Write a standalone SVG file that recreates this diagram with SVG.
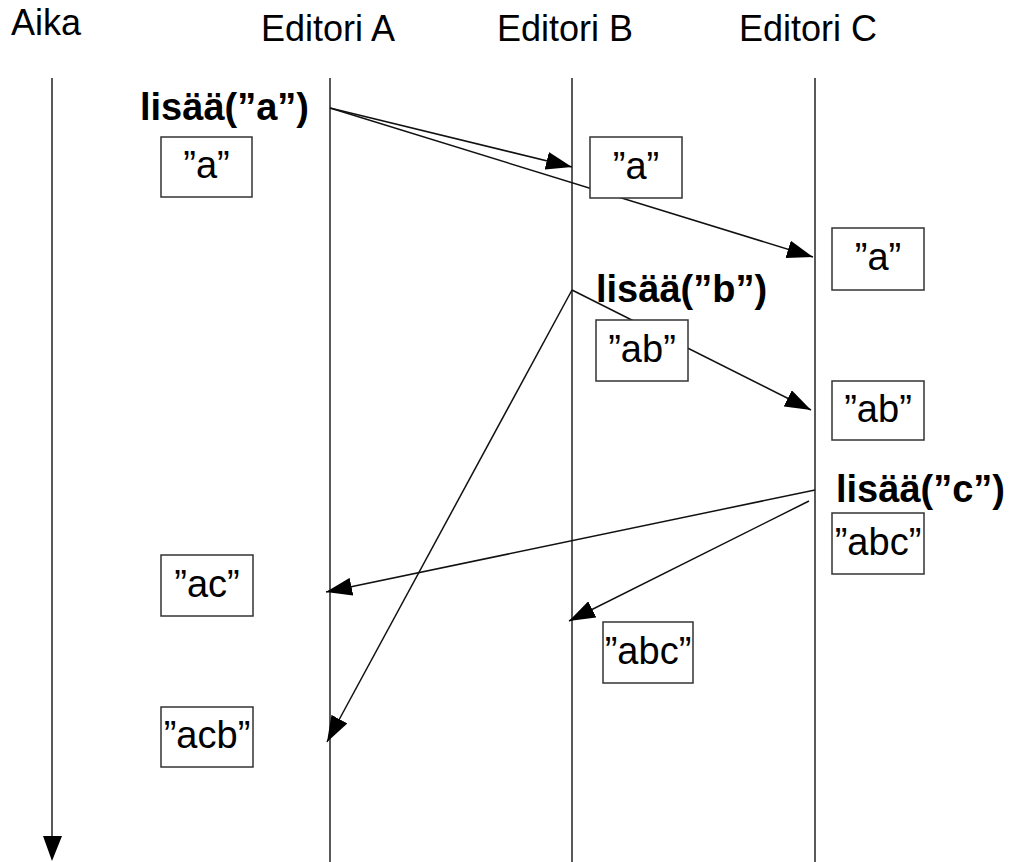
<svg xmlns="http://www.w3.org/2000/svg" width="1014" height="862" viewBox="0 0 1014 862">
  <defs>
    <marker id="head" markerUnits="userSpaceOnUse" markerWidth="26" markerHeight="18" refX="26" refY="9" orient="auto">
      <path d="M0,0 L26,9 L0,18 z" fill="#000"/>
    </marker>
    <style>
      .hdr { font-family: "Liberation Sans", Arial, sans-serif; font-size: 36px; fill: #000; }
      .op { font-family: "Liberation Sans", Arial, sans-serif; font-size: 38px; font-weight: bold; fill: #000; }
      .val { font-family: "Liberation Sans", Arial, sans-serif; font-size: 38px; fill: #000; text-anchor: middle; }
      .life { stroke: #222; stroke-width: 1.5; fill: none; }
      .msg { stroke: #111; stroke-width: 1.5; fill: none; marker-end: url(#head); }
      .box rect { fill: #fff; stroke: #333; stroke-width: 1.5; }
    </style>
  </defs>
  <rect width="1014" height="862" fill="#fff"/>

  <!-- column headings -->
  <g id="headings">
    <text class="hdr" x="11" y="35">Aika</text>
    <text class="hdr" x="261" y="41">Editori A</text>
    <text class="hdr" x="497" y="41">Editori B</text>
    <text class="hdr" x="739" y="41">Editori C</text>
  </g>

  <!-- time axis and editor lifelines -->
  <g id="lifelines">
    <line class="life" x1="52" y1="78" x2="52" y2="840"/>
    <path d="M43,836 L62,836 L52,861 z" fill="#000"/>
    <line class="life" x1="330" y1="78" x2="330" y2="862"/>
    <line class="life" x1="572" y1="78" x2="572" y2="862"/>
    <line class="life" x1="815" y1="78" x2="815" y2="862"/>
  </g>

  <!-- operation messages -->
  <g id="connectors">
    <line class="msg" x1="330" y1="108" x2="572" y2="167"/>
    <line class="msg" x1="330" y1="108" x2="813" y2="257"/>
    <line class="msg" x1="572" y1="290" x2="811" y2="410"/>
    <line class="msg" x1="572" y1="290" x2="327" y2="742"/>
    <line class="msg" x1="815" y1="490" x2="326" y2="592"/>
    <line class="msg" x1="809" y1="501" x2="569" y2="621"/>
  </g>

  <!-- operation labels -->
  <g id="op-a"><text class="op" x="140" y="120">lisää(”a”)</text></g>
  <g id="op-b"><text class="op" x="596" y="302">lisää(”b”)</text></g>
  <g id="op-c"><text class="op" x="836" y="502">lisää(”c”)</text></g>

  <!-- document states -->
  <g id="state-A-a" class="box"><rect x="161" y="137" width="91" height="60"/><text class="val" x="206.5" y="178">”a”</text></g>
  <g id="state-B-a" class="box"><rect x="590" y="137" width="92" height="61"/><text class="val" x="636" y="179">”a”</text></g>
  <g id="state-C-a" class="box"><rect x="832" y="228" width="92" height="62"/><text class="val" x="878" y="270">”a”</text></g>
  <g id="state-B-ab" class="box"><rect x="596" y="320" width="92" height="61"/><text class="val" x="642" y="362">”ab”</text></g>
  <g id="state-C-ab" class="box"><rect x="832" y="381" width="92" height="59"/><text class="val" x="878" y="422">”ab”</text></g>
  <g id="state-C-abc" class="box"><rect x="832" y="513" width="92" height="61"/><text class="val" x="878" y="555">”abc”</text></g>
  <g id="state-A-ac" class="box"><rect x="161" y="555" width="92" height="61"/><text class="val" x="207" y="597">”ac”</text></g>
  <g id="state-B-abc" class="box"><rect x="603" y="622" width="90" height="61"/><text class="val" x="648" y="664">”abc”</text></g>
  <g id="state-A-acb" class="box"><rect x="161" y="707" width="92" height="60"/><text class="val" x="207" y="748">”acb”</text></g>
</svg>
